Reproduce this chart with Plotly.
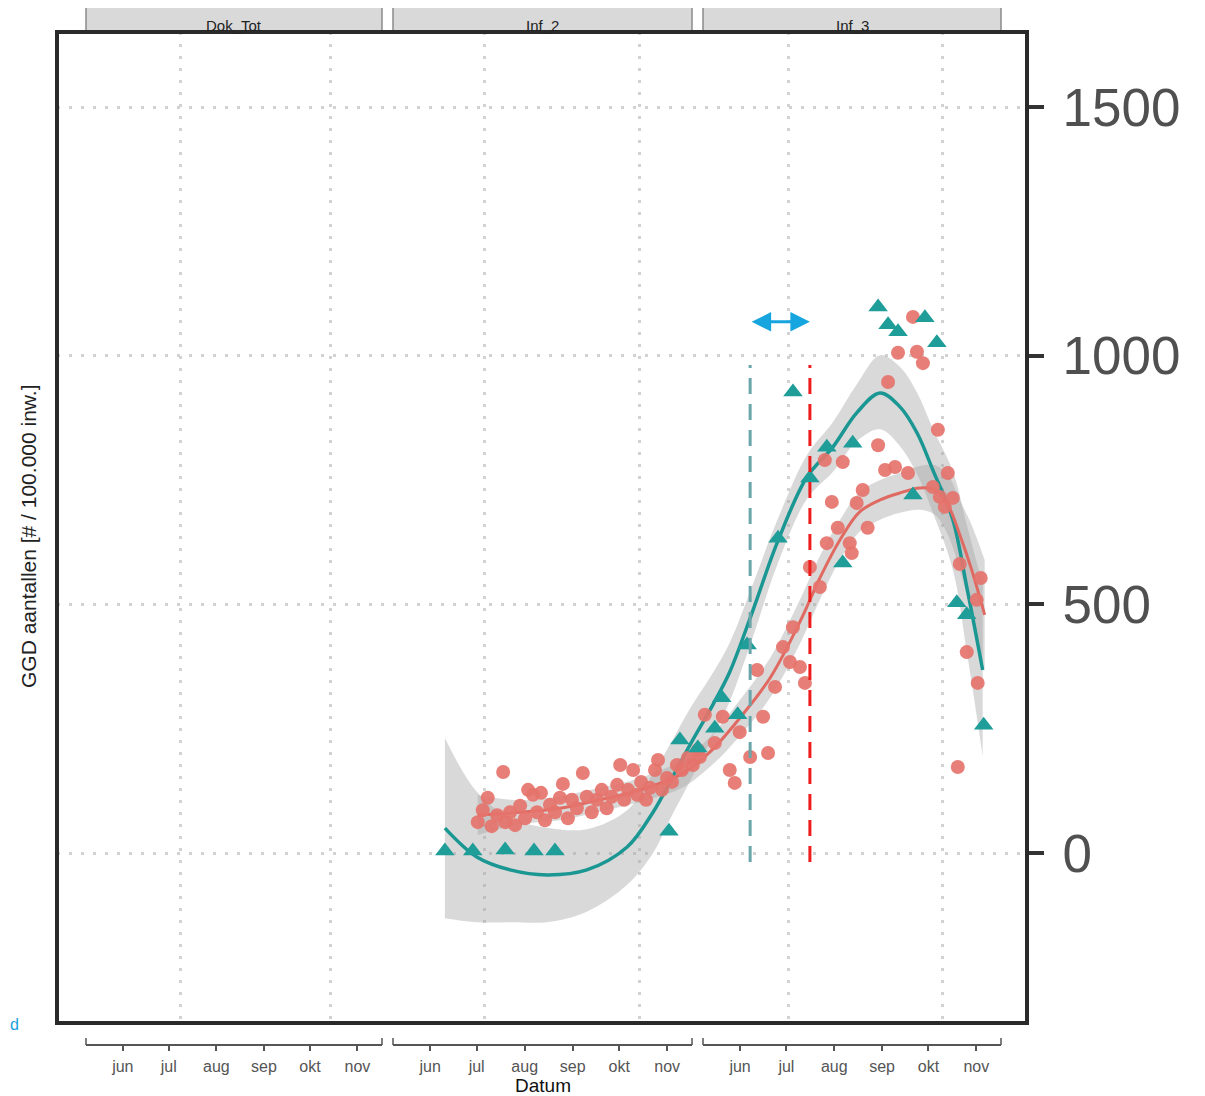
import plotly.graph_objects as go

# ---------------- data (x = day number, y = GGD aantallen per 100.000 inw.) ----------------
tri_dag = [53, 58.6, 65.1, 70.9, 75.1, 98, 100.2, 103.8, 107.2, 108.6, 111.8, 113.7, 119.9, 122.9,
           126.3, 129.7, 132.9, 134.9, 140, 142, 144, 147, 149.4, 151.8, 155.8, 157.8, 161.2]
tri_val = [4, 4, 6, 4, 4, 44, 227, 211, 251, 312, 278, 418, 633, 927,
           754, 816, 583, 824, 1098, 1062, 1048, 720, 1076, 1026, 503, 479, 257]

circ_dag = [59.6, 60.6, 61.6, 62.4, 63.5, 64.7, 65.1, 66.1, 67.1, 68.1, 69.1, 69.7, 70.7, 71.5,
            72.3, 73.1, 74.1, 75.1, 76.1, 76.7, 77.7, 78.5, 79.5, 80.7, 81.5, 82.5, 83.5, 84.5,
            85.5, 86.5, 87.6, 88.2, 89.0, 89.8, 90.8, 91.6, 92.4, 93.4, 94.2, 95.2, 95.8, 96.6,
            97.6, 98.6, 99.6, 100.6, 101.8, 102.8, 103.8,
            104.2, 105.2, 107.2, 108.8, 110.2, 111.2, 112.2, 114.3, 115.7, 116.9, 117.9, 119.3,
            120.9, 122.3, 122.9, 124.3, 125.3, 126.3, 128.3,
            129.3, 132.9, 130.7, 129.7, 131.9, 134.3, 134.7, 135.7, 136.9, 137.9, 140.0, 141.4,
            143.4, 146.0, 142.0, 144.0, 147.8, 149.0, 147.0, 152.0, 151.0, 152.4, 153.4, 154.0,
            155.0, 156.4, 160.6, 159.8, 157.8, 160.0, 156.0]
circ_val = [62, 86, 111, 54, 76, 163, 62, 82, 56, 95, 70, 127, 117, 82,
            121, 66, 97, 82, 111, 139, 70, 107, 90, 161, 113, 82, 107, 127,
            90, 113, 137, 177, 107, 127, 167, 117, 143, 107, 131, 167, 187, 127,
            151, 143, 177, 167, 191, 177, 207,
            193, 278, 221, 274, 167, 141, 243, 193, 368, 274, 201, 334,
            414, 384, 454, 374, 342, 575, 535,
            790, 786, 706, 623, 654, 623, 603, 704, 730, 654, 820, 770,
            776, 764, 947, 1006, 1008, 985, 1078, 851, 736, 716, 696, 764,
            714, 581, 553, 509, 404, 342, 173]

teal_fit_dag = [53.0, 59.4, 66.1, 73.5, 81.5, 89.6, 94.8, 98.2, 102.2, 106.8, 110.2, 114.9,
                119.7, 125.7, 130.9, 135.7, 140.4, 144.4, 147.8, 151.0, 155.0, 157.8, 161.0]
teal_fit = [50, -8, -34, -44, -34, 12, 82, 143, 217, 298, 364, 489,
            623, 756, 816, 885, 925, 897, 845, 770, 670, 535, 368]
teal_hi = [231, 123, 71, 51, 48, 86, 160, 218, 290, 362, 423, 542,
           668, 800, 866, 942, 1001, 977, 926, 853, 768, 660, 540]
teal_lo = [-131, -139, -139, -139, -118, -64, 0, 68, 144, 234, 305, 436,
           578, 712, 766, 828, 852, 818, 762, 684, 570, 405, 195]

red_fit_dag = [59.6, 68.1, 76.1, 84.1, 92.2, 100.2, 106.2, 112.2, 118.3, 124.3, 128.3, 132.3,
               136.3, 140.4, 144.4, 148.4, 151.4, 154.0, 156.4, 158.8, 161.4]
red_fit = [76, 82, 90, 107, 127, 157, 203, 271, 352, 465, 553, 629,
           686, 710, 724, 734, 730, 700, 640, 569, 479]
red_hi = [116, 106, 114, 131, 151, 185, 233, 307, 392, 509, 597, 669,
          726, 750, 764, 778, 780, 760, 710, 659, 589]
red_lo = [36, 58, 66, 83, 103, 129, 173, 235, 312, 421, 509, 589,
          646, 670, 684, 690, 680, 640, 570, 479, 369]

grid_dag = [0, 30, 61, 92, 122, 153]
y_ticks = [0, 500, 1000, 1500]
facets = ["Dok_Tot", "Inf_2", "Inf_3"]
month_dates = ["2020-06-01", "2020-07-01", "2020-08-01", "2020-09-01", "2020-10-01", "2020-11-01"]
month_labels = ["jun", "jul", "aug", "sep", "okt", "nov"]
marker_lines_dag = [114.3, 126.3]

# ---------------- figure ----------------
OFF = 8                      # page body margin
W, H = 1205 - OFF, 1096 - OFF
def px(x):
    return (x - OFF) / W
def py(y):
    return 1 - (y - OFF) / H

TEAL = "#1f9d99"
RED = "#e5736b"
BAND = "rgba(165,165,165,0.42)"
FONT = "Liberation Sans, Arial, sans-serif"
GRID = "#d2d2d2"

fig = go.Figure()

# confidence bands
fig.add_trace(go.Scatter(x=teal_fit_dag, y=teal_hi, mode="lines", line=dict(width=0, shape="spline"),
                         hoverinfo="skip", showlegend=False))
fig.add_trace(go.Scatter(x=teal_fit_dag, y=teal_lo, mode="lines", line=dict(width=0, shape="spline"),
                         fill="tonexty", fillcolor=BAND, hoverinfo="skip", showlegend=False))
fig.add_trace(go.Scatter(x=red_fit_dag, y=red_hi, mode="lines", line=dict(width=0, shape="spline"),
                         hoverinfo="skip", showlegend=False))
fig.add_trace(go.Scatter(x=red_fit_dag, y=red_lo, mode="lines", line=dict(width=0, shape="spline"),
                         fill="tonexty", fillcolor=BAND, hoverinfo="skip", showlegend=False))
# fitted lines
fig.add_trace(go.Scatter(x=teal_fit_dag, y=teal_fit, mode="lines",
                         line=dict(color="#1b9793", width=3.5, shape="spline"), showlegend=False))
fig.add_trace(go.Scatter(x=red_fit_dag, y=red_fit, mode="lines",
                         line=dict(color="#e06a62", width=3, shape="spline"), showlegend=False))
# points
fig.add_trace(go.Scatter(x=circ_dag, y=circ_val, mode="markers",
                         marker=dict(symbol="circle", size=14, color=RED, opacity=0.92, line=dict(width=0)),
                         showlegend=False))
fig.add_trace(go.Scatter(x=tri_dag, y=tri_val, mode="markers",
                         marker=dict(symbol="triangle-up", size=17, color=TEAL, line=dict(width=0)),
                         showlegend=False))

# facet month axes (bottom brackets)
facet_px = [(86, 382), (393, 692), (703, 1001)]
for i, (a, b) in enumerate(facet_px):
    n = i + 2
    fig.add_trace(go.Scatter(x=[], y=[], xaxis=f"x{n}", yaxis="y2", showlegend=False, hoverinfo="skip"))
    fig.update_layout(**{f"xaxis{n}": dict(
        type="date", domain=[px(a), px(b)], anchor="free", position=py(1045),
        range=["2020-05-08", "2020-11-17"], tickvals=month_dates, ticktext=month_labels,
        showline=True, linecolor="#555555", linewidth=1.5, ticks="outside", ticklen=5,
        tickwidth=1.5, tickcolor="#555555", showgrid=False, zeroline=False,
        tickfont=dict(size=16, color="#555555", family=FONT), ticklabelstandoff=2)})
    # end caps of bracket
    for xe in (a, b):
        fig.add_shape(type="line", xref="paper", yref="paper", x0=px(xe), x1=px(xe),
                      y0=py(1045), y1=py(1038), line=dict(color="#555555", width=1.5))
    # strip
    fig.add_shape(type="rect", xref="paper", yref="paper", x0=px(a), x1=px(b), y0=py(32), y1=py(7),
                  fillcolor="#d9d9d9", line=dict(color="#8a8a8a", width=1.5), layer="below")
    fig.add_annotation(text=facets[i], xref="paper", yref="paper", x=px((a + b) / 2), y=py(25),
                       showarrow=False, font=dict(size=15, color="#222222", family=FONT),
                       xanchor="center", yanchor="middle")

# vertical dashed markers and arrow
fig.add_shape(type="line", xref="x", yref="y", x0=marker_lines_dag[0], x1=marker_lines_dag[0],
              y0=-18, y1=981, line=dict(color="#6aa6a9", width=3, dash="16px,10px"))
fig.add_shape(type="line", xref="x", yref="y", x0=marker_lines_dag[1], x1=marker_lines_dag[1],
              y0=-18, y1=981, line=dict(color="#ee1c1c", width=3, dash="16px,10px"))
fig.add_annotation(x=marker_lines_dag[1], y=1068, ax=marker_lines_dag[0], ay=1068,
                   xref="x", yref="y", axref="x", ayref="y", text="", showarrow=True,
                   arrowside="end+start", arrowhead=2, arrowsize=1.3, arrowwidth=3,
                   arrowcolor="#16a5de")

# plot border
fig.add_shape(type="rect", xref="x domain", yref="y domain", x0=0, x1=1, y0=0, y1=1,
              line=dict(color="#2a2a2a", width=4))

# axis titles
fig.add_annotation(text="Datum", xref="paper", yref="paper", x=px(543), y=py(1085),
                   showarrow=False, font=dict(size=19, color="#111111", family=FONT),
                   xanchor="center", yanchor="middle")
fig.add_annotation(text="GGD aantallen [# / 100.000 inw.]", xref="paper", yref="paper",
                   x=px(28), y=py(536), textangle=-90, showarrow=False,
                   font=dict(size=21, color="#222222", family=FONT),
                   xanchor="center", yanchor="middle")
fig.add_annotation(text="d", xref="paper", yref="paper", x=0, y=py(1024), showarrow=False,
                   font=dict(size=16, color="#1aa0e0", family=FONT), xanchor="left", yanchor="middle")

fig.update_layout(
    width=W, height=H, autosize=False,
    margin=dict(l=0, r=0, t=0, b=0, pad=0),
    paper_bgcolor="white", plot_bgcolor="white",
    font=dict(family=FONT),
    xaxis=dict(domain=[px(57), px(1027)], range=[-24.9, 169.9], tickvals=grid_dag,
               showticklabels=False, ticks="", showgrid=True, gridcolor=GRID,
               griddash="3px,9px", gridwidth=3, zeroline=False, showline=False),
    yaxis=dict(domain=[py(1023), py(32)], range=[-341.8, 1650.8], side="right", anchor="x",
               tickvals=y_ticks, ticktext=[str(v) for v in y_ticks], ticks="outside", ticklen=16,
               tickwidth=3.5, tickcolor="#333333", showgrid=True, gridcolor=GRID,
               griddash="3px,9px", gridwidth=3, zeroline=False, showline=False,
               tickfont=dict(size=53, color="#505050", family=FONT), ticklabelstandoff=8),
    yaxis2=dict(domain=[0, 0.01], visible=False, range=[0, 1]),
)

fig.write_html("out.html")
